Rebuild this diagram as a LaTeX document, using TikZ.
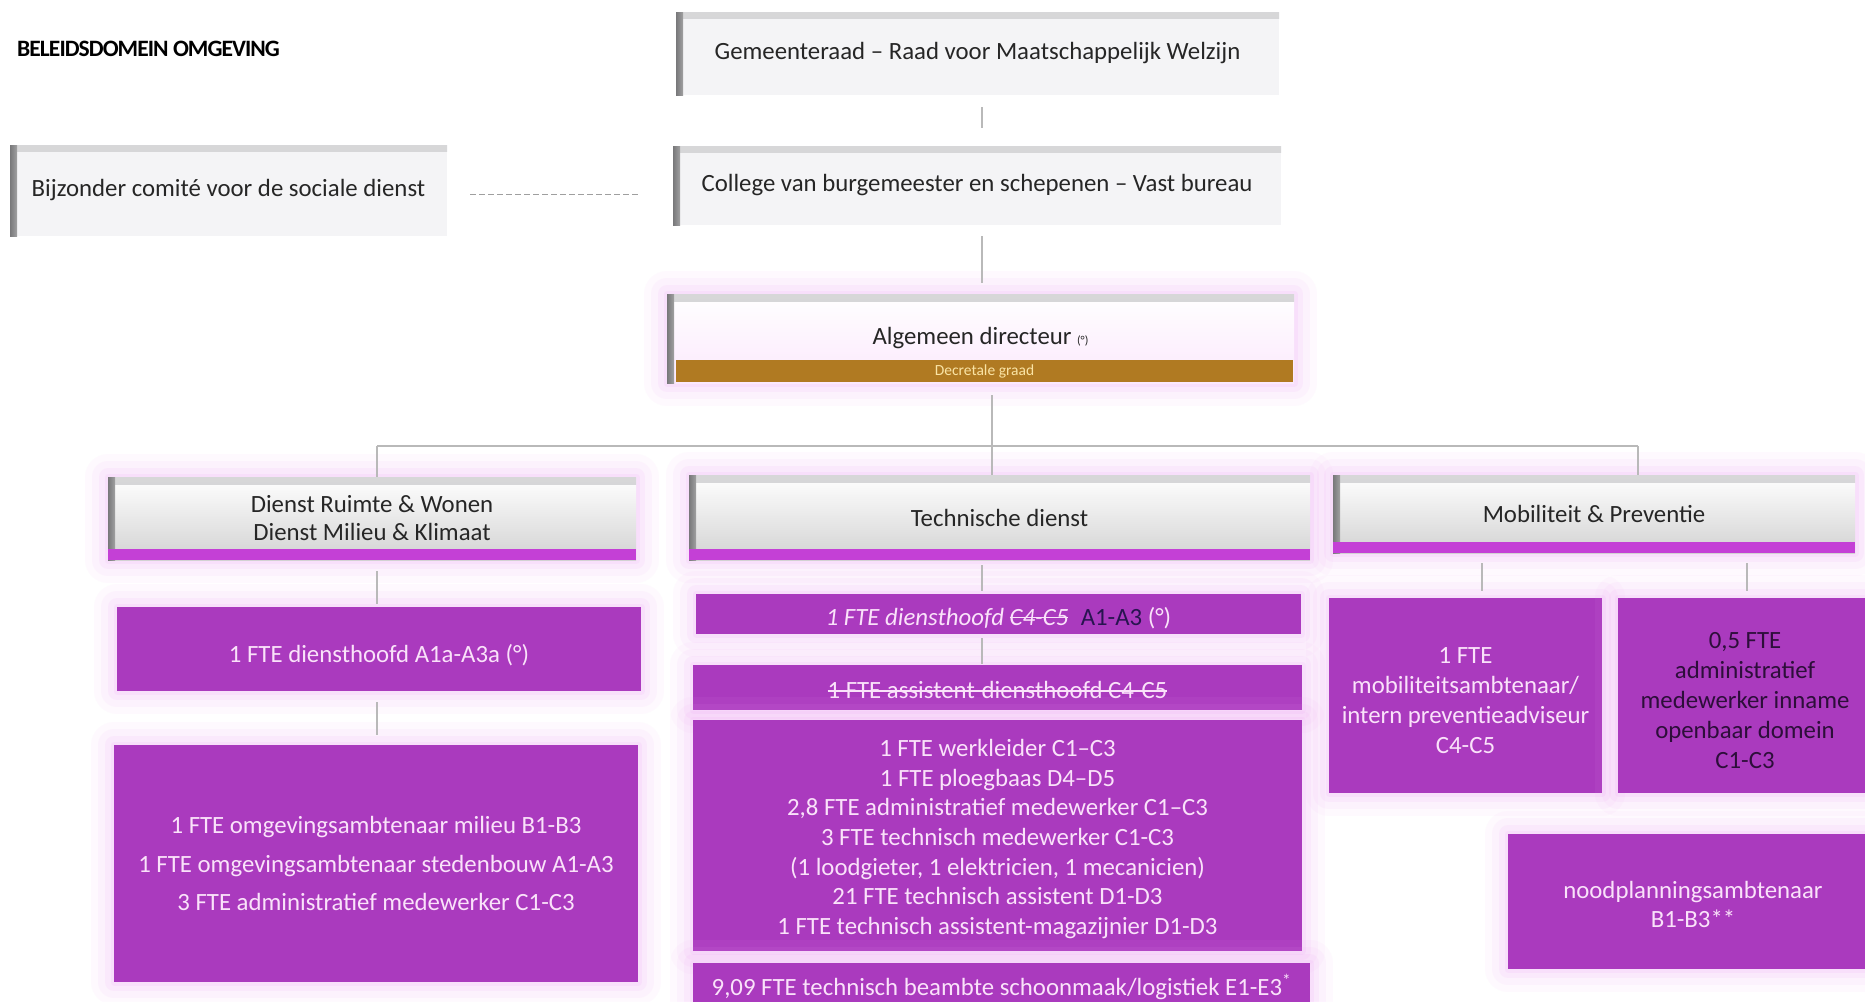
\documentclass[tikz,border=0pt]{standalone}
\usepackage{fontspec}
\setmainfont{Carlito}
\usetikzlibrary{calc}
\newcommand\mystrike[1]{\leavevmode\setbox0\hbox{#1}\rlap{\raisebox{0.27em}{\rule{\wd0}{0.07em}}}\box0}
\newcommand\dn[2]{\raisebox{-#1}[\height][\depth]{\begin{tabular}{@{}c@{}}#2\end{tabular}}}
\definecolor{purp}{RGB}{170,58,190}
\definecolor{purpbar}{RGB}{196,64,214}
\definecolor{glowc}{RGB}{240,165,246}
\definecolor{ptext}{RGB}{250,226,250}
\definecolor{pdark}{RGB}{45,14,58}
\definecolor{navy}{RGB}{40,20,80}
\definecolor{hdrtext}{RGB}{38,38,38}
\definecolor{hdrfill}{RGB}{244,244,246}
\definecolor{hdrtop}{RGB}{205,205,207}
\definecolor{hdredge}{RGB}{120,120,122}
\definecolor{goldc}{RGB}{176,122,34}
\definecolor{goldtext}{RGB}{250,228,165}
\definecolor{connc}{RGB}{185,185,185}
\tikzset{
  box/.style={inner sep=0pt, outer sep=0pt, align=center, font=\fontsize{24.8}{30}\selectfont},
  glow/.style={
    preaction={draw=glowc, line width=46pt, draw opacity=0.06, line join=round},
    preaction={draw=glowc, line width=32pt, draw opacity=0.08, line join=round},
    preaction={draw=glowc, line width=18pt, draw opacity=0.11, line join=round},
    preaction={draw=glowc, line width=7pt, draw opacity=0.14, line join=round}},
  hdr/.style={box, fill=hdrfill, text=hdrtext,
    path picture={
      \fill[top color=hdrtop!80, bottom color=hdrtop] (path picture bounding box.north west) rectangle ([yshift=-6pt]path picture bounding box.north east);
      \fill[left color=hdredge, right color=hdredge!70] (path picture bounding box.north west) rectangle ([xshift=7pt]path picture bounding box.south west);
    }},
  dienst/.style={box, glow, top color=white, bottom color=gray!35, text=hdrtext,
    path picture={
      \fill[top color=hdrtop!80, bottom color=hdrtop] (path picture bounding box.north west) rectangle ([yshift=-7pt]path picture bounding box.north east);
      \fill[left color=hdredge, right color=hdredge!70] (path picture bounding box.north west) rectangle ([xshift=7pt]path picture bounding box.south west);
      \fill[purpbar] ([yshift=11pt]path picture bounding box.south west) rectangle (path picture bounding box.south east);
    }},
  dir/.style={box, glow, top color=white, bottom color=glowc!25, text=hdrtext,
    path picture={
      \fill[top color=hdrtop!80, bottom color=hdrtop] (path picture bounding box.north west) rectangle ([yshift=-7pt]path picture bounding box.north east);
      \fill[left color=hdredge, right color=hdredge!70] (path picture bounding box.north west) rectangle ([xshift=7pt]path picture bounding box.south west);
    }},
  gold/.style={box, fill=goldc, text=goldtext, font=\fontsize{15.5}{18}\selectfont},
  pbox/.style={box, glow, fill=purp, text=ptext},
  conn/.style={draw=connc, line width=1.6pt},
}
\begin{document}
\begin{tikzpicture}[x=1pt,y=-1pt]
\useasboundingbox (0,0) rectangle (1865,1001);
\clip (0,0) rectangle (1865,1001);
\fill[white] (0,0) rectangle (1865,1001);

% title
\node[anchor=west, inner sep=0pt, text=black, font=\fontsize{23.5}{27}\selectfont\bfseries\addfontfeatures{LetterSpace=-4}] (title) at (17,49) {BELEIDSDOMEIN OMGEVING};

% top chain
\node[hdr, minimum width=603pt, minimum height=83pt] (G) at (977.5,53.5) {Gemeenteraad – Raad voor Maatschappelijk Welzijn};
\node[hdr, minimum width=608pt, minimum height=79pt] (C) at (977,185.5) {College van burgemeester en schepenen – Vast bureau};
\node[hdr, minimum width=437pt, minimum height=91pt] (B) at (228.5,190.5) {Bijzonder comité voor de sociale dienst};
\node[dir, minimum width=627pt, minimum height=89pt] (D) at (980.5,338.5) {Algemeen directeur {\fontsize{12}{14}\selectfont(°)}};
\node[gold, minimum width=617pt, minimum height=22pt] (DG) at (984.5,371) {Decretale graad};

% departments
\node[dienst, minimum width=528pt, minimum height=83pt, font=\fontsize{24.8}{28}\selectfont] (DR) at (372,518.5) {Dienst Ruimte \& Wonen\\Dienst Milieu \& Klimaat};
\node[dienst, minimum width=621pt, minimum height=85pt] (TD) at (999.5,517.5) {Technische dienst};
\node[dienst, minimum width=522pt, minimum height=78pt] (MP) at (1594,514) {Mobiliteit \& Preventie};

% left column
\node[pbox, minimum width=524pt, minimum height=84pt] (A1) at (379,649) {\dn{7pt}{1 FTE diensthoofd A1a-A3a (°)}};
\node[pbox, minimum width=524pt, minimum height=237pt, font=\fontsize{24.8}{38.7}\selectfont] (L2) at (376,863.5) {1 FTE omgevingsambtenaar milieu B1-B3\\1 FTE omgevingsambtenaar stedenbouw A1-A3\\3 FTE administratief medewerker C1-C3};

% technical column
\node[pbox, minimum width=605pt, minimum height=40pt] (T1) at (998.5,614) {\dn{5pt}{\textit{1 FTE diensthoofd \mystrike{C4-C5}}\enspace{\color{navy}A1-A3} (°)}};
\node[pbox, minimum width=609pt, minimum height=45pt] (T2) at (997.5,687.5) {\dn{5pt}{\mystrike{1 FTE assistent-diensthoofd C4-C5}}};
\node[pbox, minimum width=609pt, minimum height=231pt, font=\fontsize{24.8}{29.7}\selectfont] (T3) at (997.5,835.5) {\dn{4pt}{1 FTE werkleider C1–C3\\1 FTE ploegbaas D4–D5\\2,8 FTE administratief medewerker C1–C3\\3 FTE technisch medewerker C1-C3\\(1 loodgieter, 1 elektricien, 1 mecanicien)\\21 FTE technisch assistent D1-D3\\1 FTE technisch assistent-magazijnier D1-D3}};
\node[pbox, minimum width=617pt, minimum height=47pt] (T4) at (1001.5,986.5) {9,09 FTE technisch beambte schoonmaak/logistiek E1-E3\textsuperscript{*}};

% mobility column
\node[pbox, minimum width=273pt, minimum height=195pt, font=\fontsize{24.8}{30}\selectfont] (M1) at (1465.5,695.5) {\dn{7pt}{1 FTE\\mobiliteitsambtenaar/\\intern preventieadviseur\\C4-C5}};
\node[pbox, minimum width=254pt, minimum height=195pt, text=pdark, font=\fontsize{24.8}{30}\selectfont] (M2) at (1745,695.5) {\dn{7pt}{0,5 FTE\\administratief\\medewerker inname\\openbaar domein\\C1-C3}};
\node[pbox, minimum width=370pt, minimum height=135pt, font=\fontsize{24.8}{29}\selectfont] (M3) at (1693,901.5) {\dn{6pt}{noodplanningsambtenaar\\B1-B3**}};

% connectors
\coordinate (busL) at (377,446);
\coordinate (busM) at (992,446);
\coordinate (busR) at (1638,446);
\coordinate (tcol) at (982,600);
\coordinate (m1c) at (1482,575);
\coordinate (m2c) at (1747,575);

\draw[conn, shorten <=12pt, shorten >=18pt] (G.south -| tcol) -- (C.north -| tcol);
\draw[conn, shorten <=11pt, shorten >=11pt] (C.south -| tcol) -- (D.north -| tcol);
\draw[conn, shorten <=12pt] (busM |- D.south) -- (busM);
\draw[conn] (busL) -- (busR);
\draw[conn] (busL) -- (busL |- DR.north);
\draw[conn] (busM) -- (busM |- TD.north);
\draw[conn] (busR) -- (busR |- MP.north);
\draw[conn, shorten <=11pt, shorten >=3pt] (busL |- DR.south) -- (busL |- A1.north);
\draw[conn, shorten <=11pt, shorten >=10pt] (busL |- A1.south) -- (busL |- L2.north);
\draw[conn, shorten <=5pt, shorten >=3pt] (tcol |- TD.south) -- (tcol |- T1.north);
\draw[conn, shorten <=4pt, shorten >=1pt] (tcol |- T1.south) -- (tcol |- T2.north);
\draw[conn, shorten <=10pt, shorten >=7pt] (m1c |- MP.south) -- (m1c |- M1.north);
\draw[conn, shorten <=10pt, shorten >=7pt] (m2c |- MP.south) -- (m2c |- M2.north);
\draw[draw=gray!75, line width=1.4pt, dash pattern=on 6pt off 3pt, shorten <=23pt, shorten >=34pt] ([yshift=-4pt]B.east) -- ([yshift=-4pt]B.east -| C.west);
\end{tikzpicture}
\end{document}
